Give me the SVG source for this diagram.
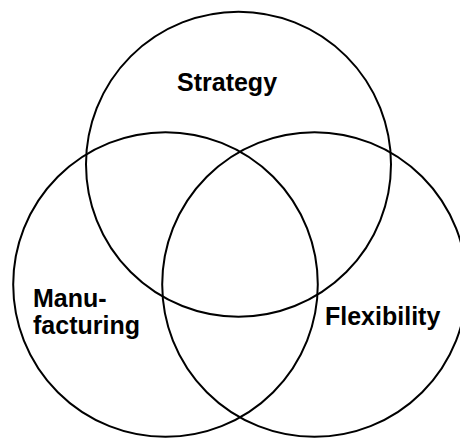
<svg xmlns="http://www.w3.org/2000/svg" width="460" height="439" viewBox="0 0 460 439">
<style>
.c{fill:none;stroke:#000;stroke-width:2}
.t{font-family:"Liberation Sans",Arial,sans-serif;font-weight:bold;font-size:25px;fill:#000}
</style>
<rect width="460" height="439" fill="#fff"/>
<g id="strategy">
<circle class="c" cx="238.5" cy="164.2" r="152.5"/>
<text class="t" x="177" y="90.7">Strategy</text>
</g>
<g id="manufacturing">
<circle class="c" cx="165.5" cy="284.5" r="152.3"/>
<text class="t" x="33" y="306.7">Manu-</text>
<text class="t" x="33" y="334.3">facturing</text>
</g>
<g id="flexibility">
<circle class="c" cx="314.5" cy="284.5" r="152.3"/>
<text class="t" x="325" y="325">Flexibility</text>
</g>
<g id="connectors"/>
</svg>
